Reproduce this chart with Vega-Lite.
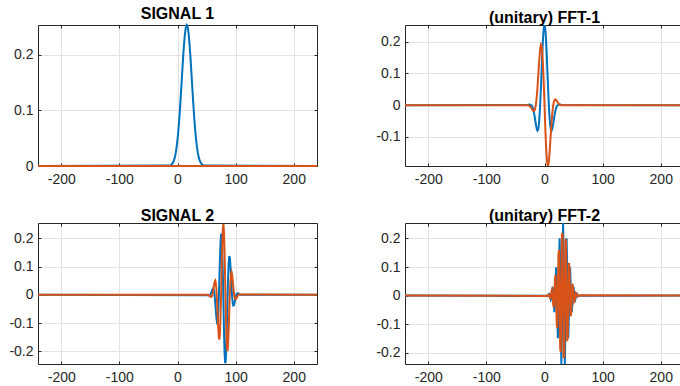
{
"$schema": "https://vega.github.io/schema/vega-lite/v6.json",
"padding": {"left": 8, "top": 6, "right": 0, "bottom": 0},
"background": "white",
"config": {
 "view": {"stroke": null},
 "axis": {"domain": true, "domainColor": "#262626", "domainWidth": 1, "grid": true, "gridColor": "#e3e3e3", "gridWidth": 1, "ticks": true, "tickColor": "#262626", "tickSize": -3, "labelFont": "Liberation Sans", "labelFontSize": 14, "labelColor": "#262626", "labelPadding": 5, "labelFlush": false, "labelOverlap": false, "title": null},
 "axisX": {"labelPadding": 9},
 "axisY": {"labelPadding": 8},
 "title": {"font": "Liberation Sans", "fontSize": 16, "fontWeight": "bold", "color": "#000000", "offset": -1, "baseline": "alphabetic", "anchor": "middle"}
},
"datasets": {
 "s1": [
  {"x": -240, "re": 0, "im": 0}, {"x": -14, "re": 0.0007, "im": 0}, {"x": -13, "re": 0.0010, "im": 0}, {"x": -12, "re": 0.0015, "im": 0}, {"x": -11, "re": 0.0022, "im": 0}, {"x": -10, "re": 0.0030, "im": 0}, {"x": -9, "re": 0.0042, "im": 0}, {"x": -8, "re": 0.0059, "im": 0}, {"x": -7, "re": 0.0080, "im": 0}, {"x": -6, "re": 0.0107, "im": 0}, {"x": -5, "re": 0.0142, "im": 0}, {"x": -4, "re": 0.0185, "im": 0}, {"x": -3, "re": 0.0239, "im": 0}, {"x": -2, "re": 0.0305, "im": 0}, {"x": -1, "re": 0.0383, "im": 0}, {"x": 0, "re": 0.0476, "im": 0}, {"x": 1, "re": 0.0583, "im": 0}, {"x": 2, "re": 0.0704, "im": 0}, {"x": 3, "re": 0.0840, "im": 0}, {"x": 4, "re": 0.0990, "im": 0}, {"x": 5, "re": 0.1151, "im": 0}, {"x": 6, "re": 0.1320, "im": 0}, {"x": 7, "re": 0.1495, "im": 0}, {"x": 8, "re": 0.1671, "im": 0}, {"x": 9, "re": 0.1843, "im": 0}, {"x": 10, "re": 0.2007, "im": 0}, {"x": 11, "re": 0.2157, "im": 0}, {"x": 12, "re": 0.2287, "im": 0}, {"x": 13, "re": 0.2395, "im": 0}, {"x": 14, "re": 0.2474, "im": 0}, {"x": 15, "re": 0.2523, "im": 0}, {"x": 16, "re": 0.2540, "im": 0}, {"x": 17, "re": 0.2523, "im": 0}, {"x": 18, "re": 0.2474, "im": 0}, {"x": 19, "re": 0.2395, "im": 0}, {"x": 20, "re": 0.2287, "im": 0}, {"x": 21, "re": 0.2157, "im": 0}, {"x": 22, "re": 0.2007, "im": 0}, {"x": 23, "re": 0.1843, "im": 0}, {"x": 24, "re": 0.1671, "im": 0}, {"x": 25, "re": 0.1495, "im": 0}, {"x": 26, "re": 0.1320, "im": 0}, {"x": 27, "re": 0.1151, "im": 0}, {"x": 28, "re": 0.0990, "im": 0}, {"x": 29, "re": 0.0840, "im": 0}, {"x": 30, "re": 0.0704, "im": 0}, {"x": 31, "re": 0.0583, "im": 0}, {"x": 32, "re": 0.0476, "im": 0}, {"x": 33, "re": 0.0383, "im": 0}, {"x": 34, "re": 0.0305, "im": 0}, {"x": 35, "re": 0.0239, "im": 0}, {"x": 36, "re": 0.0185, "im": 0}, {"x": 37, "re": 0.0142, "im": 0}, {"x": 38, "re": 0.0107, "im": 0}, {"x": 39, "re": 0.0080, "im": 0}, {"x": 40, "re": 0.0059, "im": 0}, {"x": 41, "re": 0.0042, "im": 0}, {"x": 42, "re": 0.0030, "im": 0}, {"x": 43, "re": 0.0022, "im": 0}, {"x": 44, "re": 0.0015, "im": 0}, {"x": 45, "re": 0.0010, "im": 0}, {"x": 46, "re": 0.0007, "im": 0}, {"x": 240, "re": 0, "im": 0}
 ],
 "f1": [
  {"x": -240, "re": 0, "im": 0}, {"x": -30, "re": 0.0007, "im": 0}, {"x": -29, "re": 0.0010, "im": -0.0002}, {"x": -28, "re": 0.0014, "im": -0.0006}, {"x": -27, "re": 0.0018, "im": -0.0013}, {"x": -26, "re": 0.0020, "im": -0.0022}, {"x": -25, "re": 0.0021, "im": -0.0036}, {"x": -24, "re": 0.0018, "im": -0.0056}, {"x": -23, "re": 0.0008, "im": -0.0080}, {"x": -22, "re": -0.0011, "im": -0.0106}, {"x": -21, "re": -0.0044, "im": -0.0135}, {"x": -20, "re": -0.0093, "im": -0.0160}, {"x": -19, "re": -0.0160, "im": -0.0178}, {"x": -18, "re": -0.0247, "im": -0.0179}, {"x": -17, "re": -0.0350, "im": -0.0156}, {"x": -16, "re": -0.0466, "im": -0.0099}, {"x": -15, "re": -0.0583, "im": 0}, {"x": -14, "re": -0.0689, "im": 0.0146}, {"x": -13, "re": -0.0767, "im": 0.0342}, {"x": -12, "re": -0.0801, "im": 0.0582}, {"x": -11, "re": -0.0770, "im": 0.0855}, {"x": -10, "re": -0.0660, "im": 0.1143}, {"x": -9, "re": -0.0462, "im": 0.1422}, {"x": -8, "re": -0.0175, "im": 0.1662}, {"x": -7, "re": 0.0193, "im": 0.1833}, {"x": -6, "re": 0.0620, "im": 0.1909}, {"x": -5, "re": 0.1078, "im": 0.1868}, {"x": -4, "re": 0.1530, "im": 0.1700}, {"x": -3, "re": 0.1938, "im": 0.1408}, {"x": -2, "re": 0.2260, "im": 0.1006}, {"x": -1, "re": 0.2468, "im": 0.0525}, {"x": 0, "re": 0.2540, "im": 0}, {"x": 1, "re": 0.2468, "im": -0.0525}, {"x": 2, "re": 0.2260, "im": -0.1006}, {"x": 3, "re": 0.1938, "im": -0.1408}, {"x": 4, "re": 0.1530, "im": -0.1700}, {"x": 5, "re": 0.1078, "im": -0.1868}, {"x": 6, "re": 0.0620, "im": -0.1909}, {"x": 7, "re": 0.0193, "im": -0.1833}, {"x": 8, "re": -0.0175, "im": -0.1662}, {"x": 9, "re": -0.0462, "im": -0.1422}, {"x": 10, "re": -0.0660, "im": -0.1143}, {"x": 11, "re": -0.0770, "im": -0.0855}, {"x": 12, "re": -0.0801, "im": -0.0582}, {"x": 13, "re": -0.0767, "im": -0.0342}, {"x": 14, "re": -0.0689, "im": -0.0146}, {"x": 15, "re": -0.0583, "im": 0}, {"x": 16, "re": -0.0466, "im": 0.0099}, {"x": 17, "re": -0.0350, "im": 0.0156}, {"x": 18, "re": -0.0247, "im": 0.0179}, {"x": 19, "re": -0.0160, "im": 0.0178}, {"x": 20, "re": -0.0093, "im": 0.0160}, {"x": 21, "re": -0.0044, "im": 0.0135}, {"x": 22, "re": -0.0011, "im": 0.0106}, {"x": 23, "re": 0.0008, "im": 0.0080}, {"x": 24, "re": 0.0018, "im": 0.0056}, {"x": 25, "re": 0.0021, "im": 0.0036}, {"x": 26, "re": 0.0020, "im": 0.0022}, {"x": 27, "re": 0.0018, "im": 0.0013}, {"x": 28, "re": 0.0014, "im": 0.0006}, {"x": 29, "re": 0.0010, "im": 0.0002}, {"x": 30, "re": 0.0007, "im": 0}, {"x": 240, "re": 0, "im": 0}
 ],
 "s2": [
  {"x": -240, "re": 0, "im": 0}, {"x": 52, "re": -0.0015, "im": 0.0003}, {"x": 53, "re": -0.0022, "im": -0.0005}, {"x": 54, "re": -0.0024, "im": -0.0018}, {"x": 55, "re": -0.0021, "im": -0.0036}, {"x": 56, "re": -0.0006, "im": -0.0059}, {"x": 57, "re": 0.0025, "im": -0.0076}, {"x": 58, "re": 0.0072, "im": -0.0080}, {"x": 59, "re": 0.0130, "im": -0.0058}, {"x": 60, "re": 0.0185, "im": 0}, {"x": 61, "re": 0.0218, "im": 0.0097}, {"x": 62, "re": 0.0204, "im": 0.0227}, {"x": 63, "re": 0.0118, "im": 0.0364}, {"x": 64, "re": -0.0050, "im": 0.0473}, {"x": 65, "re": -0.0292, "im": 0.0505}, {"x": 66, "re": -0.0570, "im": 0.0414}, {"x": 67, "re": -0.0822, "im": 0.0175}, {"x": 68, "re": -0.0968, "im": -0.0206}, {"x": 69, "re": -0.0931, "im": -0.0677}, {"x": 70, "re": -0.0660, "im": -0.1143}, {"x": 71, "re": -0.0156, "im": -0.1487}, {"x": 72, "re": 0.0516, "im": -0.1589}, {"x": 73, "re": 0.1233, "im": -0.1370}, {"x": 74, "re": 0.1834, "im": -0.0816}, {"x": 75, "re": 0.2157, "im": 0}, {"x": 76, "re": 0.2089, "im": 0.0930}, {"x": 77, "re": 0.1603, "im": 0.1780}, {"x": 78, "re": 0.0765, "im": 0.2353}, {"x": 79, "re": -0.0264, "im": 0.2509}, {"x": 80, "re": -0.1270, "im": 0.2200}, {"x": 81, "re": -0.2041, "im": 0.1483}, {"x": 82, "re": -0.2420, "im": 0.0514}, {"x": 83, "re": -0.2343, "im": -0.0498}, {"x": 84, "re": -0.1850, "im": -0.1344}, {"x": 85, "re": -0.1078, "im": -0.1868}, {"x": 86, "re": -0.0210, "im": -0.1996}, {"x": 87, "re": 0.0570, "im": -0.1753}, {"x": 88, "re": 0.1118, "im": -0.1242}, {"x": 89, "re": 0.1366, "im": -0.0608}, {"x": 90, "re": 0.1320, "im": 0}, {"x": 91, "re": 0.1052, "im": 0.0468}, {"x": 92, "re": 0.0662, "im": 0.0736}, {"x": 93, "re": 0.0260, "im": 0.0799}, {"x": 94, "re": -0.0074, "im": 0.0700}, {"x": 95, "re": -0.0292, "im": 0.0505}, {"x": 96, "re": -0.0385, "im": 0.0280}, {"x": 97, "re": -0.0375, "im": 0.0080}, {"x": 98, "re": -0.0298, "im": -0.0063}, {"x": 99, "re": -0.0193, "im": -0.0140}, {"x": 100, "re": -0.0093, "im": -0.0160}, {"x": 101, "re": -0.0015, "im": -0.0141}, {"x": 102, "re": 0.0033, "im": -0.0102}, {"x": 103, "re": 0.0054, "im": -0.0059}, {"x": 104, "re": 0.0054, "im": -0.0024}, {"x": 105, "re": 0.0042, "im": 0}, {"x": 106, "re": 0.0027, "im": 0.0012}, {"x": 107, "re": 0.0015, "im": 0.0016}, {"x": 108, "re": 0.0005, "im": 0.0014}, {"x": 240, "re": 0, "im": 0}
 ],
 "f2": [
  {"x": -240, "re": 0, "im": 0}, {"x": 4, "re": -0.0008, "im": -0.0013}, {"x": 5, "re": -0.0022, "im": 0}, {"x": 6, "re": -0.0015, "im": 0.0026}, {"x": 7, "re": 0.0021, "im": 0.0036}, {"x": 8, "re": 0.0059, "im": 0}, {"x": 9, "re": 0.0040, "im": -0.0069}, {"x": 10, "re": -0.0054, "im": -0.0093}, {"x": 11, "re": -0.0142, "im": 0}, {"x": 12, "re": -0.0093, "im": 0.0160}, {"x": 13, "re": 0.0120, "im": 0.0207}, {"x": 14, "re": 0.0305, "im": 0}, {"x": 15, "re": 0.0192, "im": -0.0332}, {"x": 16, "re": -0.0238, "im": -0.0412}, {"x": 17, "re": -0.0583, "im": 0}, {"x": 18, "re": -0.0352, "im": 0.0610}, {"x": 19, "re": 0.0420, "im": 0.0727}, {"x": 20, "re": 0.0990, "im": 0}, {"x": 21, "re": 0.0576, "im": -0.0997}, {"x": 22, "re": -0.0660, "im": -0.1143}, {"x": 23, "re": -0.1495, "im": 0}, {"x": 24, "re": -0.0836, "im": 0.1447}, {"x": 25, "re": 0.0922, "im": 0.1596}, {"x": 26, "re": 0.2007, "im": 0}, {"x": 27, "re": 0.1078, "im": -0.1868}, {"x": 28, "re": -0.1144, "im": -0.1981}, {"x": 29, "re": -0.2395, "im": 0}, {"x": 30, "re": -0.1237, "im": 0.2143}, {"x": 31, "re": 0.1262, "im": 0.2185}, {"x": 32, "re": 0.2540, "im": 0}, {"x": 33, "re": 0.1262, "im": -0.2185}, {"x": 34, "re": -0.1237, "im": -0.2143}, {"x": 35, "re": -0.2395, "im": 0}, {"x": 36, "re": -0.1144, "im": 0.1981}, {"x": 37, "re": 0.1078, "im": 0.1868}, {"x": 38, "re": 0.2007, "im": 0}, {"x": 39, "re": 0.0922, "im": -0.1596}, {"x": 40, "re": -0.0836, "im": -0.1447}, {"x": 41, "re": -0.1495, "im": 0}, {"x": 42, "re": -0.0660, "im": 0.1143}, {"x": 43, "re": 0.0576, "im": 0.0997}, {"x": 44, "re": 0.0990, "im": 0}, {"x": 45, "re": 0.0420, "im": -0.0727}, {"x": 46, "re": -0.0352, "im": -0.0610}, {"x": 47, "re": -0.0583, "im": 0}, {"x": 48, "re": -0.0238, "im": 0.0412}, {"x": 49, "re": 0.0192, "im": 0.0332}, {"x": 50, "re": 0.0305, "im": 0}, {"x": 51, "re": 0.0120, "im": -0.0207}, {"x": 52, "re": -0.0093, "im": -0.0160}, {"x": 53, "re": -0.0142, "im": 0}, {"x": 54, "re": -0.0054, "im": 0.0093}, {"x": 55, "re": 0.0040, "im": 0.0069}, {"x": 56, "re": 0.0059, "im": 0}, {"x": 57, "re": 0.0021, "im": -0.0036}, {"x": 58, "re": -0.0015, "im": -0.0026}, {"x": 59, "re": -0.0022, "im": 0}, {"x": 60, "re": -0.0008, "im": 0.0013}, {"x": 240, "re": 0, "im": 0}
 ]
},
"columns": 2,
"spacing": {"row": 57, "column": 88},
"bounds": "flush",
"concat": [
 {
  "width": 279, "height": 141,
  "title": {"text": "SIGNAL 1"},
  "data": {"name": "s1"},
  "layer": [
   {"mark": {"type": "line", "color": "#0072BD", "strokeWidth": 2, "clip": false},
    "encoding": {
     "x": {"field": "x", "type": "quantitative", "scale": {"domain": [-240, 240], "nice": false, "zero": false}, "axis": {"orient": "bottom", "values": [-200, -100, 0, 100, 200], "labelExpr": "replace(format(datum.value, 'd'), '\u2212', '-')"}},
     "y": {"field": "re", "type": "quantitative", "scale": {"domain": [0, 0.254], "nice": false, "zero": false}, "axis": {"orient": "left", "values": [0, 0.1, 0.2], "labelExpr": "replace(format(datum.value, '.1~f'), '\u2212', '-')"}}
    }},
   {"mark": {"type": "line", "color": "#D95319", "strokeWidth": 2, "clip": false},
    "encoding": {
     "x": {"field": "x", "type": "quantitative", "axis": {"orient": "top", "values": [-200, -100, 0, 100, 200], "labels": false, "grid": false}},
     "y": {"field": "im", "type": "quantitative", "axis": {"orient": "right", "values": [0, 0.1, 0.2], "labels": false, "grid": false}}
    }}
  ],
  "resolve": {"axis": {"x": "independent", "y": "independent"}}
 },
 {
  "width": 279, "height": 141,
  "title": {"text": "(unitary) FFT-1"},
  "data": {"name": "f1"},
  "layer": [
   {"mark": {"type": "line", "color": "#0072BD", "strokeWidth": 2, "clip": true},
    "encoding": {
     "x": {"field": "x", "type": "quantitative", "scale": {"domain": [-240, 240], "nice": false, "zero": false}, "axis": {"orient": "bottom", "values": [-200, -100, 0, 100, 200], "labelExpr": "replace(format(datum.value, 'd'), '\u2212', '-')"}},
     "y": {"field": "re", "type": "quantitative", "scale": {"domain": [-0.1915, 0.2527], "nice": false, "zero": false}, "axis": {"orient": "left", "values": [-0.1, 0, 0.1, 0.2], "labelExpr": "replace(format(datum.value, '.1~f'), '\u2212', '-')"}}
    }},
   {"mark": {"type": "line", "color": "#D95319", "strokeWidth": 2, "clip": true},
    "encoding": {
     "x": {"field": "x", "type": "quantitative", "axis": {"orient": "top", "values": [-200, -100, 0, 100, 200], "labels": false, "grid": false}},
     "y": {"field": "im", "type": "quantitative", "axis": {"orient": "right", "values": [-0.1, 0, 0.1, 0.2], "labels": false, "grid": false}}
    }}
  ],
  "resolve": {"axis": {"x": "independent", "y": "independent"}}
 },
 {
  "width": 279, "height": 141,
  "title": {"text": "SIGNAL 2"},
  "data": {"name": "s2"},
  "layer": [
   {"mark": {"type": "line", "color": "#0072BD", "strokeWidth": 2, "clip": true},
    "encoding": {
     "x": {"field": "x", "type": "quantitative", "scale": {"domain": [-240, 240], "nice": false, "zero": false}, "axis": {"orient": "bottom", "values": [-200, -100, 0, 100, 200], "labelExpr": "replace(format(datum.value, 'd'), '\u2212', '-')"}},
     "y": {"field": "re", "type": "quantitative", "scale": {"domain": [-0.245, 0.254], "nice": false, "zero": false}, "axis": {"orient": "left", "values": [-0.2, -0.1, 0, 0.1, 0.2], "labelExpr": "replace(format(datum.value, '.1~f'), '\u2212', '-')"}}
    }},
   {"mark": {"type": "line", "color": "#D95319", "strokeWidth": 2, "clip": true},
    "encoding": {
     "x": {"field": "x", "type": "quantitative", "axis": {"orient": "top", "values": [-200, -100, 0, 100, 200], "labels": false, "grid": false}},
     "y": {"field": "im", "type": "quantitative", "axis": {"orient": "right", "values": [-0.2, -0.1, 0, 0.1, 0.2], "labels": false, "grid": false}}
    }}
  ],
  "resolve": {"axis": {"x": "independent", "y": "independent"}}
 },
 {
  "width": 279, "height": 141,
  "title": {"text": "(unitary) FFT-2"},
  "data": {"name": "f2"},
  "layer": [
   {"mark": {"type": "line", "color": "#0072BD", "strokeWidth": 2, "clip": true},
    "encoding": {
     "x": {"field": "x", "type": "quantitative", "scale": {"domain": [-240, 240], "nice": false, "zero": false}, "axis": {"orient": "bottom", "values": [-200, -100, 0, 100, 200], "labelExpr": "replace(format(datum.value, 'd'), '\u2212', '-')"}},
     "y": {"field": "re", "type": "quantitative", "scale": {"domain": [-0.2395, 0.254], "nice": false, "zero": false}, "axis": {"orient": "left", "values": [-0.2, -0.1, 0, 0.1, 0.2], "labelExpr": "replace(format(datum.value, '.1~f'), '\u2212', '-')"}}
    }},
   {"mark": {"type": "line", "color": "#D95319", "strokeWidth": 2, "clip": true},
    "encoding": {
     "x": {"field": "x", "type": "quantitative", "axis": {"orient": "top", "values": [-200, -100, 0, 100, 200], "labels": false, "grid": false}},
     "y": {"field": "im", "type": "quantitative", "axis": {"orient": "right", "values": [-0.2, -0.1, 0, 0.1, 0.2], "labels": false, "grid": false}}
    }}
  ],
  "resolve": {"axis": {"x": "independent", "y": "independent"}}
 }
]
}
